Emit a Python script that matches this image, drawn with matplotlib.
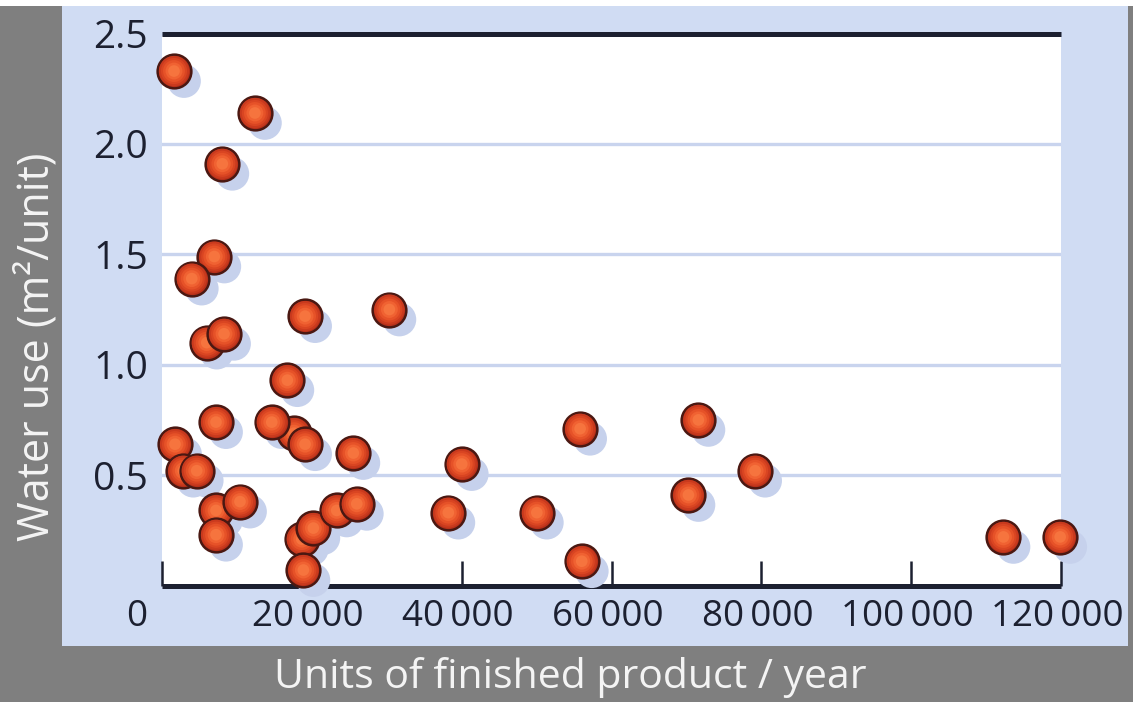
import numpy as np
import matplotlib
matplotlib.use("Agg")
import matplotlib.pyplot as plt
from matplotlib.patches import Rectangle
from matplotlib.transforms import ScaledTranslation

plt.rcParams["font.family"] = ["Open Sans", "DejaVu Sans"]

# data (units/year, m2/unit); later points sit on top
units_per_year = [1600, 12400, 8050, 6980, 3970, 5970, 8280, 19100, 30350, 16730,
                  1740, 7210, 17620, 14650, 19100, 25540, 2840, 4630, 7210, 7210,
                  10410, 18650, 20200, 18870, 23320, 26000, 38220, 40010, 50030,
                  55810, 56030, 70270, 71600, 79170, 112320, 119890]
water_use = [2.33, 2.14, 1.91, 1.49, 1.39, 1.10, 1.14, 1.22, 1.25, 0.93,
             0.64, 0.74, 0.69, 0.74, 0.64, 0.60, 0.52, 0.52, 0.34, 0.23,
             0.38, 0.21, 0.26, 0.07, 0.34, 0.37, 0.33, 0.55, 0.33,
             0.71, 0.11, 0.41, 0.75, 0.52, 0.22, 0.22]

xticks = [0, 20000, 40000, 60000, 80000, 100000, 120000]
xtick_labels = ["0", "20\u2009000", "40\u2009000", "60\u2009000", "80\u2009000",
                "100\u2009000", "120\u2009000"]
yticks = [0.5, 1.0, 1.5, 2.0, 2.5]
ytick_labels = ["0.5", "1.0", "1.5", "2.0", "2.5"]

W, H = 1133, 702
fig = plt.figure(figsize=(W / 100, H / 100), dpi=100, facecolor="white")

# gray frame and light blue panel
fig.add_artist(Rectangle((0, 0), 1, 696 / H, transform=fig.transFigure,
                         facecolor="#7f7f7f", edgecolor="none", zorder=-10))
fig.add_artist(Rectangle((62 / W, (H - 646) / H), (1128 - 62) / W, (646 - 6) / H,
                         transform=fig.transFigure, facecolor="#d0dcf3",
                         edgecolor="none", zorder=-9))

ax = fig.add_axes([162 / W, (H - 585.5) / H, 899 / W, 552 / H])
ax.set_facecolor("white")
ax.set_xlim(0, 120000)
ax.set_ylim(0, 2.5)

ink = "#1c2030"
for side in ["left", "right"]:
    ax.spines[side].set_visible(False)
for side in ["top", "bottom"]:
    ax.spines[side].set_color(ink)
    ax.spines[side].set_linewidth(3.6)
    ax.spines[side].set_capstyle("butt")

ax.set_yticks(yticks)
ax.set_yticklabels(ytick_labels)
ax.yaxis.grid(True, color="#c9d4ee", linewidth=2.4)
ax.set_axisbelow(True)
ax.tick_params(axis="y", length=0, pad=10, labelsize=28, labelcolor=ink)

ax.set_xticks(xticks)
ax.set_xticklabels(xtick_labels)
ax.tick_params(axis="x", direction="in", length=18, width=1.8, color=ink,
               pad=10, labelsize=26.5, labelcolor=ink)
for i, lab in enumerate(ax.get_xticklabels()):
    dx = -25 if i == 0 else -4
    lab.set_transform(lab.get_transform() + ScaledTranslation(dx / 100, 0, fig.dpi_scale_trans))

# shadows
size = 590
shadow = ax.transData + ScaledTranslation(10 / 100, -10 / 100, fig.dpi_scale_trans)
ax.scatter(units_per_year, water_use, s=size, color="#c6d1ec", edgecolors="none",
           transform=shadow, zorder=3, clip_on=False)

# shaded balls
layers = [(1.00, "#b6301a"), (0.80, "#c93a1e"), (0.60, "#d94522"),
          (0.42, "#e65228"), (0.25, "#f06232"), (0.12, "#f6743e")]
z = 4
for xv, yv in zip(units_per_year, water_use):
    for k, (f, c) in enumerate(layers):
        ax.scatter([xv], [yv], s=size * f, color=c,
                   edgecolors="#4a1812" if k == 0 else "none",
                   linewidths=1.8 if k == 0 else 0, zorder=z, clip_on=False)
        z += 0.01

fig.text(37 / W, (H - 347) / H, "Water use (m\u00b2/unit)", rotation=90,
         ha="center", va="center", fontsize=31, color="#f4f4f4")
fig.text(570 / W, (H - 678) / H, "Units of finished product / year",
         ha="center", va="center", fontsize=29.5, color="#f4f4f4")

fig.savefig("out.png", dpi=100, facecolor=fig.get_facecolor())
